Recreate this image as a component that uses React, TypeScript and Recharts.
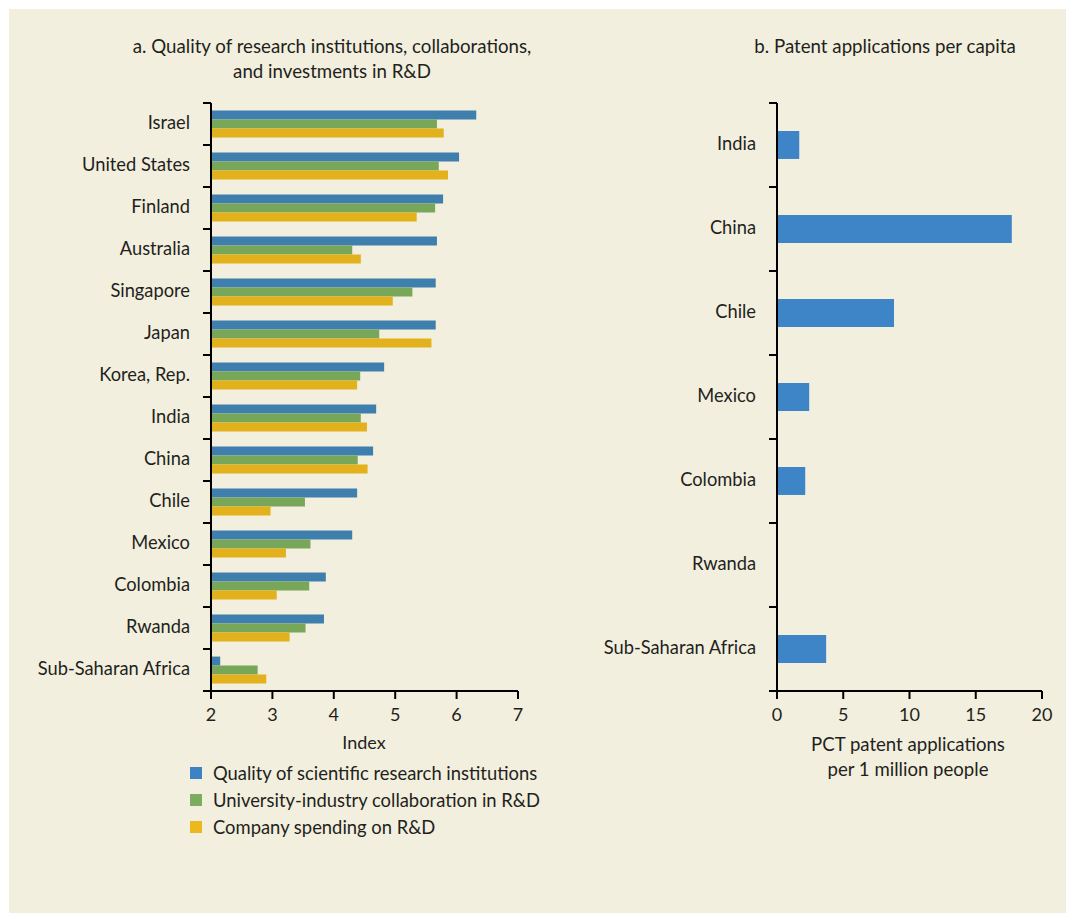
import React from "react";
import { BarChart, Bar, XAxis, YAxis } from "recharts";

const categoriesA = ["Israel", "United States", "Finland", "Australia", "Singapore", "Japan", "Korea, Rep.", "India", "China", "Chile", "Mexico", "Colombia", "Rwanda", "Sub-Saharan Africa"];
const quality = [6.32, 6.04, 5.78, 5.68, 5.66, 5.66, 4.82, 4.69, 4.64, 4.38, 4.3, 3.87, 3.84, 2.15];
const collaboration = [5.68, 5.71, 5.65, 4.3, 5.28, 4.74, 4.43, 4.44, 4.39, 3.53, 3.62, 3.6, 3.54, 2.76];
const spending = [5.79, 5.86, 5.35, 4.44, 4.96, 5.59, 4.38, 4.54, 4.55, 2.97, 3.22, 3.07, 3.28, 2.9];
const ticksA = [2, 3, 4, 5, 6, 7];

const categoriesB = ["India", "China", "Chile", "Mexico", "Colombia", "Rwanda", "Sub-Saharan Africa"];
const patents = [1.68, 17.72, 8.83, 2.43, 2.13, 0, 3.71];
const ticksB = [0, 5, 10, 15, 20];

const seriesNames = ["Quality of scientific research institutions", "University-industry collaboration in R&D", "Company spending on R&D"];

const dataA = categoriesA.map((c, i) => ({ name: c, quality: quality[i], collaboration: collaboration[i], spending: spending[i] }));
const dataB = categoriesB.map((c, i) => ({ name: c, patents: patents[i] }));

const W = 1066;
const H = 913;
const FONT = "Lato, 'Open Sans', sans-serif";
const TEXT = "#231F20";
const BG = "#F2EFDE";
const BLUE = "#3F7FAE";
const GREEN = "#79A75A";
const YELLOW = "#E2B11B";
const BLUE_B = "#3E85C7";
const LEGEND_COLORS = ["#3C82C4", "#7AAD60", "#EDB81E"];

const PLOT_TOP = 103;
const PLOT_H = 588;
const AXIS_X_A = 211;
const AXIS_X_B = 777;

const makeYTick = (axisX: number, count: number) => (props: any) => {
  const { y, payload, index } = props;
  const band = PLOT_H / count;
  const top = y - band / 2;
  const bottom = y + band / 2;
  return (
    <g>
      <text x={axisX - 21} y={y - 2} textAnchor="end" dominantBaseline="central" fill={TEXT} fontSize={18.3} fontFamily={FONT}>
        {payload.value}
      </text>
      <line x1={axisX - 8} x2={axisX} y1={top} y2={top} stroke="#000" strokeWidth={2} />
      {index === count - 1 ? <line x1={axisX - 8} x2={axisX} y1={bottom} y2={bottom} stroke="#000" strokeWidth={2} /> : null}
    </g>
  );
};

export default function App() {
  return (
    <div style={{ position: "absolute", left: 0, top: 0, width: W, height: H, background: "#fff", fontFamily: FONT, color: TEXT }}>
      <div style={{ position: "absolute", left: 9, top: 9, width: W - 9, height: H - 9, background: BG }} />

      <div style={{ position: "absolute", left: 0, top: 0, width: W, height: H }}>
        <BarChart width={W} height={H} data={dataA} layout="vertical" barCategoryGap="18%" barGap={0}
          margin={{ top: PLOT_TOP, bottom: H - (PLOT_TOP + PLOT_H) - 40, left: 11, right: W - 518 }}>
          <XAxis type="number" domain={[2, 7]} ticks={ticksA} height={40} interval={0}
            axisLine={{ stroke: "#000", strokeWidth: 2 }} tickLine={{ stroke: "#000", strokeWidth: 2 }} tickSize={8} tickMargin={9}
            tick={{ fill: TEXT, fontSize: 18, fontFamily: FONT }} allowDataOverflow />
          <YAxis type="category" dataKey="name" width={200} interval={0} tickLine={false}
            axisLine={{ stroke: "#000", strokeWidth: 2 }} tick={makeYTick(AXIS_X_A, categoriesA.length)} />
          <Bar dataKey="quality" fill={BLUE} isAnimationActive={false} />
          <Bar dataKey="collaboration" fill={GREEN} isAnimationActive={false} />
          <Bar dataKey="spending" fill={YELLOW} isAnimationActive={false} />
        </BarChart>
      </div>

      <div style={{ position: "absolute", left: 0, top: 0, width: W, height: H }}>
        <BarChart width={W} height={H} data={dataB} layout="vertical" barCategoryGap="33.3%"
          margin={{ top: PLOT_TOP, bottom: H - (PLOT_TOP + PLOT_H) - 40, left: AXIS_X_B - 200, right: W - 1042 }}>
          <XAxis type="number" domain={[0, 20]} ticks={ticksB} height={40} interval={0}
            axisLine={{ stroke: "#000", strokeWidth: 2 }} tickLine={{ stroke: "#000", strokeWidth: 2 }} tickSize={8} tickMargin={9}
            tick={{ fill: TEXT, fontSize: 18, fontFamily: FONT }} />
          <YAxis type="category" dataKey="name" width={200} interval={0} tickLine={false}
            axisLine={{ stroke: "#000", strokeWidth: 2 }} tick={makeYTick(AXIS_X_B, categoriesB.length)} />
          <Bar dataKey="patents" fill={BLUE_B} isAnimationActive={false} />
        </BarChart>
      </div>

      <div style={{ position: "absolute", left: 82, width: 500, top: 34, textAlign: "center", fontSize: 18.7, lineHeight: "25px", whiteSpace: "nowrap" }}>
        a. Quality of research institutions, collaborations,<br />and investments in R&amp;D
      </div>
      <div style={{ position: "absolute", left: 735, width: 300, top: 34, textAlign: "center", fontSize: 18.7, lineHeight: "25px", whiteSpace: "nowrap" }}>
        b. Patent applications per capita
      </div>

      <div style={{ position: "absolute", left: 264, width: 200, top: 731, textAlign: "center", fontSize: 18, lineHeight: "22px" }}>
        Index
      </div>
      <div style={{ position: "absolute", left: 808, width: 200, top: 732, textAlign: "center", fontSize: 18.6, lineHeight: "25px", whiteSpace: "nowrap" }}>
        PCT patent applications<br />per 1 million people
      </div>

      {seriesNames.map((n, i) => (
        <div key={n} style={{ position: "absolute", left: 190, top: 762 + i * 27, height: 22, display: "flex", alignItems: "center" }}>
          <div style={{ width: 12, height: 12, background: LEGEND_COLORS[i], marginRight: 11 }} />
          <span style={{ fontSize: 18.4, lineHeight: "22px", whiteSpace: "nowrap" }}>{n}</span>
        </div>
      ))}
    </div>
  );
}
